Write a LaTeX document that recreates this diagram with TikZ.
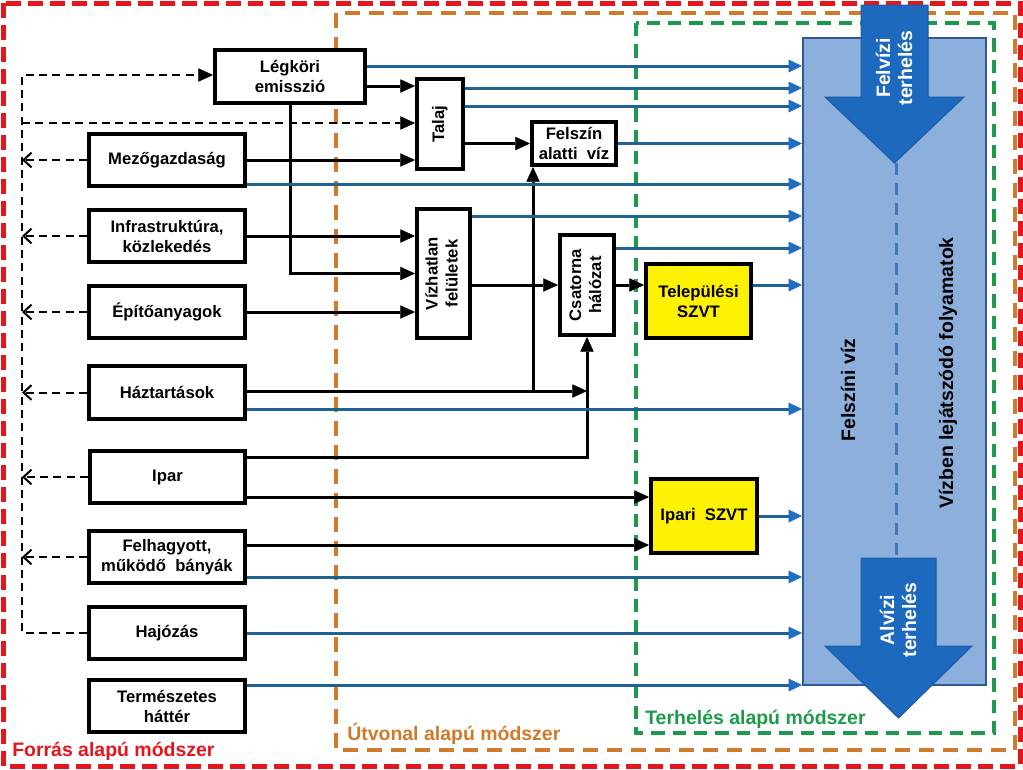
\documentclass[tikz,border=0pt]{standalone}
\usepackage{fontspec}
\setmainfont{Liberation Sans}
\usepackage{graphicx}
\usetikzlibrary{arrows.meta}
\definecolor{fred}{HTML}{E3161D}
\definecolor{forange}{HTML}{CF7B2B}
\definecolor{fgreen}{HTML}{1E9A4C}
\definecolor{lblue}{HTML}{1F6294}
\definecolor{ablue}{HTML}{1E6EC3}
\definecolor{boxfill}{HTML}{8CAFDC}
\definecolor{boxline}{HTML}{2E5A94}
\definecolor{bigarrow}{HTML}{1D69BE}
\definecolor{bigarrowd}{HTML}{1A5CA6}
\definecolor{dblue}{HTML}{4077BA}
\newcommand\boxfont{\fontsize{12.5}{15}\selectfont\bfseries}
\newcommand\labfont{\fontsize{14.6}{16.5}\selectfont\bfseries}
\newcommand\vtxt[1]{\rotatebox{90}{\begin{tabular}{@{}c@{}}#1\end{tabular}}}
\begin{document}
\begin{tikzpicture}[x=0.75pt,y=-0.75pt,
  box/.style={draw, line width=3pt, fill=white, align=center, inner sep=0pt, font=\boxfont},
  ybox/.style={box, fill=yellow},
  sz/.style 2 args={minimum width={(#1-4)*0.75pt}, minimum height={(#2-4)*0.75pt}},
  tri/.style={-{Triangle[length=11pt,width=10pt,line width=0.4pt]}},
  blk/.style={line width=2.25pt, tri},
  bline/.style={draw=lblue, line width=2.25pt, -{Triangle[length=10pt,width=9.5pt,line width=0.4pt,color=ablue]}},
  dsh/.style={line width=1.5pt, dash pattern=on 6pt off 4pt},
  barb/.style={-{Straight Barb[length=6pt,width=11pt]}},
  frame/.style={line width=2.6pt}
]
\useasboundingbox (0,0) rectangle (1023,769);
% frames
\draw[frame, fred, line width=3.75pt, dash pattern=on 11pt off 5.5pt] (3,3) rectangle (1020,766);
\draw[frame, forange, dash pattern=on 11pt off 7pt] (336,13) rectangle (1015,750);
\draw[frame, fgreen, dash pattern=on 10pt off 6pt] (636,23) rectangle (994,733);
\node[anchor=base west, text=fred, font=\labfont, inner sep=0pt] (lf) at (12,756) {Forrás alapú módszer};
\node[anchor=base west, text=forange, font=\labfont, inner sep=0pt] (lu) at (347,740) {Útvonal alapú módszer};
\node[anchor=base west, text=fgreen, font=\labfont, inner sep=0pt] (lt) at (645,724) {Terhelés alapú módszer};

% surface water box
\node[draw=boxline, fill=boxfill, line width=1.5pt, inner sep=0pt,
      minimum width={183*0.75pt}, minimum height={647*0.75pt}] (fv) at (894.5,361.5) {};
\draw[dblue, line width=2.25pt, dash pattern=on 9pt off 6pt] (896,163) -- (896,558);
\filldraw[fill=bigarrow, draw=bigarrowd, line width=0.75pt]
  (861,5) -- (928,5) -- (928,97) -- (964,97) -- (894.5,163) -- (825,97) -- (861,97) -- cycle;
\filldraw[fill=bigarrow, draw=bigarrowd, line width=0.75pt]
  (861,558) -- (936,558) -- (936,646) -- (972,646) -- (898.5,718) -- (825,646) -- (861,646) -- cycle;
\node[text=white, rotate=90, font=\labfont, align=center] (felv) at (894,68) {Felvízi\\terhelés};
\node[text=white, rotate=90, font=\labfont, align=center] (alv) at (898,620) {Alvízi\\terhelés};
\node[rotate=90, font=\labfont] (fvt) at (848,390) {Felszíni víz};
\node[rotate=90, font=\labfont] (vbt) at (948,373) {Vízben lejátszódó folyamatok};

% boxes
\node[box, sz={154}{57}] (leg) at (290,76.5) {Légköri\\emisszió};
\node[box, sz={160}{56}] (mez) at (167,160) {Mezőgazdaság};
\node[box, sz={160}{56}] (inf) at (167,236) {Infrastruktúra,\\közlekedés};
\node[box, sz={160}{56}] (epi) at (167,312) {Építőanyagok};
\node[box, sz={160}{57}] (haz) at (167,392.5) {Háztartások};
\node[box, sz={159}{56}] (ipar) at (167.5,477) {Ipar};
\node[box, sz={160}{56}] (fel) at (167,557) {Felhagyott,\\működő~~bányák};
\node[box, sz={160}{56}] (haj) at (167,633) {Hajózás};
\node[box, sz={160}{56}] (ter) at (167,706) {Természetes\\háttér};
\node[box, sz={50}{94}] (talaj) at (440,124) {\vtxt{Talaj}};
\node[box, sz={88}{47}] (fav) at (574,143.5) {Felszín\\alatti~~víz};
\node[box, sz={57}{133}] (viz) at (443.5,273.5) {\vtxt{Vízhatlan\\felületek}};
\node[box, sz={58}{104}] (csat) at (587,285) {\vtxt{Csatorna\\hálózat}};
\node[ybox, sz={109}{78}] (tel) at (698.5,301) {Települési\\SZVT};
\node[ybox, sz={110}{78}] (ipari) at (704,516) {Ipari~~SZVT};

% rails
\coordinate (bus) at (22,0);
\foreach \y in {66,75,86,88,106,123,184,216,248,285,391,409,457,497,545,577,685}
  {\coordinate (r\y) at (0,\y);}
\coordinate (j1) at (533,391);

% dashed connectors
\draw[dsh, tri] (haj.west) -- (haj.west -| bus) -- (bus |- r75) -- (leg.west |- r75);
\draw[dsh, tri] (bus |- r123) -- (talaj.west |- r123);
\foreach \n in {mez,inf,epi,haz,ipar,fel}
  {\draw[dsh, barb] (\n.west) -- (\n.west -| bus);}

% black connectors
\draw[blk] (leg.east |- r86) -- (talaj.west |- r86);
\draw[blk] (mez.east) -- (mez.east -| talaj.west);
\draw[blk] (talaj.east |- fav.west) -- (fav.west);
\draw[blk] (inf.east) -- (inf.east -| viz.west);
\draw[blk] (leg.south) |- (viz.west);
\draw[blk] (epi.east) -- (epi.east -| viz.west);
\draw[blk] (viz.east |- csat.west) -- (csat.west);
\draw[blk] (csat.east) -- (csat.east -| tel.west);
\draw[blk] (haz.east |- r391) -- (csat.south |- r391);
\draw[blk] (j1) -- (j1 |- fav.south);
\draw[blk] (ipar.east |- r457) -| (csat.south);
\draw[blk] (ipar.east |- r497) -- (ipari.west |- r497);
\draw[blk] (fel.east |- r545) -- (ipari.west |- r545);

% blue connectors
\draw[bline] (leg.east |- r66) -- (fv.west |- r66);
\draw[bline] (talaj.east |- r88) -- (fv.west |- r88);
\draw[bline] (talaj.east |- r106) -- (fv.west |- r106);
\draw[bline] (fav.east) -- (fav.east -| fv.west);
\draw[bline] (mez.east |- r184) -- (fv.west |- r184);
\draw[bline] (viz.east |- r216) -- (fv.west |- r216);
\draw[bline] (csat.east |- r248) -- (fv.west |- r248);
\draw[bline] (tel.east |- r285) -- (fv.west |- r285);
\draw[bline] (haz.east |- r409) -- (fv.west |- r409);
\draw[bline] (ipari.east) -- (ipari.east -| fv.west);
\draw[bline] (fel.east |- r577) -- (fv.west |- r577);
\draw[bline] (haj.east) -- (haj.east -| fv.west);
\draw[bline] (ter.east |- r685) -- (fv.west |- r685);
\end{tikzpicture}
\end{document}
